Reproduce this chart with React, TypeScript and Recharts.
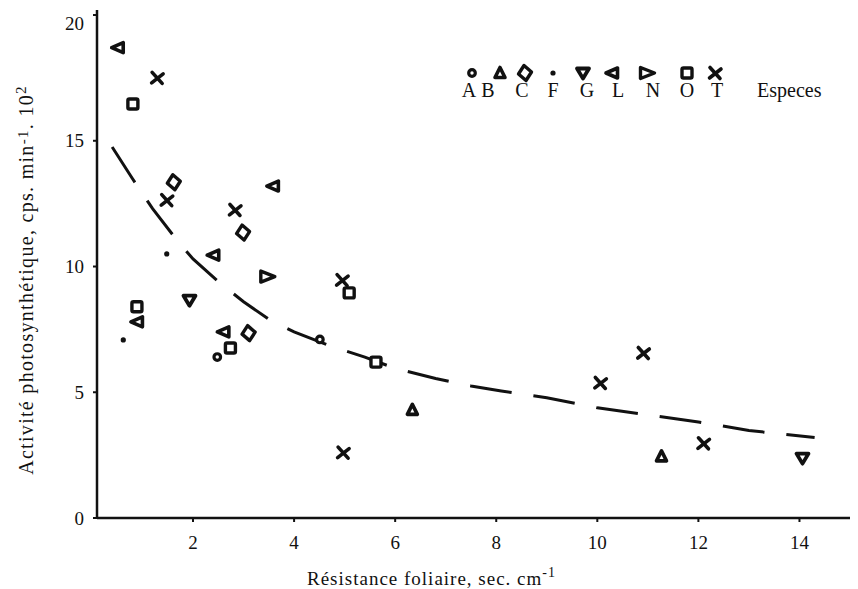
import React from 'react';
import { ScatterChart, Scatter, XAxis, YAxis } from 'recharts';

// ---- data ----
const speciesA = [{ x: 2.48, y: 6.4 }, { x: 4.51, y: 7.1 }];
const speciesB = [{ x: 6.34, y: 4.3 }, { x: 11.27, y: 2.45 }];
const speciesC = [{ x: 1.62, y: 13.35 }, { x: 2.99, y: 11.35 }, { x: 3.1, y: 7.35 }];
const speciesF = [{ x: 0.62, y: 7.08 }, { x: 1.48, y: 10.5 }];
const speciesG = [{ x: 1.93, y: 8.66 }, { x: 14.06, y: 2.38 }];
const speciesL = [
  { x: 0.51, y: 18.7 }, { x: 3.58, y: 13.2 }, { x: 2.4, y: 10.45 },
  { x: 2.6, y: 7.4 }, { x: 0.89, y: 7.8 },
];
const speciesN = [{ x: 3.47, y: 9.6 }];
const speciesO = [
  { x: 0.81, y: 16.46 }, { x: 0.89, y: 8.4 }, { x: 2.74, y: 6.76 },
  { x: 5.09, y: 8.95 }, { x: 5.62, y: 6.2 },
];
const speciesT = [
  { x: 1.29, y: 17.5 }, { x: 1.48, y: 12.64 }, { x: 2.83, y: 12.25 },
  { x: 4.95, y: 9.46 }, { x: 4.97, y: 2.6 }, { x: 10.06, y: 5.37 },
  { x: 10.91, y: 6.56 }, { x: 12.1, y: 2.97 },
];
const trendCurve = [
  { x: 0.4, y: 14.75 }, { x: 0.8, y: 13.5 }, { x: 1.2, y: 12.3 }, { x: 1.7, y: 11.0 },
  { x: 2.0, y: 10.3 }, { x: 2.5, y: 9.4 }, { x: 3.0, y: 8.6 }, { x: 3.5, y: 7.9 },
  { x: 4.0, y: 7.4 }, { x: 4.7, y: 6.85 }, { x: 5.4, y: 6.4 }, { x: 6.0, y: 5.95 },
  { x: 6.8, y: 5.55 }, { x: 7.5, y: 5.25 }, { x: 8.1, y: 5.05 }, { x: 9.0, y: 4.78 },
  { x: 10.0, y: 4.38 }, { x: 11.0, y: 4.1 }, { x: 12.0, y: 3.82 }, { x: 13.0, y: 3.48 },
  { x: 14.3, y: 3.2 },
];
const xTicks = [2, 4, 6, 8, 10, 12, 14];
const yTicks = [0, 5, 10, 15, 20];
const legendLetters = ['A', 'B', 'C', 'F', 'G', 'L', 'N', 'O', 'T'];

const INK = '#111';
const FONT = '"Liberation Serif", "Times New Roman", serif';

// ---- marker glyphs ----
type Glyph = (cx: number, cy: number) => React.ReactElement;
const glyphs: Record<string, Glyph> = {
  A: (cx, cy) => <circle cx={cx} cy={cy} r={3.3} fill="#fff" stroke={INK} strokeWidth={3.2} />,
  B: (cx, cy) => (
    <polygon points={`${cx},${cy - 5.5} ${cx + 5},${cy + 4.5} ${cx - 5},${cy + 4.5}`}
      fill="#fff" stroke={INK} strokeWidth={3.6} strokeLinejoin="round" />
  ),
  C: (cx, cy) => (
    <polygon points={`${cx - 1},${cy - 7.5} ${cx + 6.5},${cy - 1} ${cx + 1},${cy + 7.5} ${cx - 6.5},${cy + 1}`}
      fill="#fff" stroke={INK} strokeWidth={3.4} strokeLinejoin="round" />
  ),
  F: (cx, cy) => <circle cx={cx} cy={cy} r={2.6} fill={INK} />,
  G: (cx, cy) => (
    <polygon points={`${cx - 6},${cy - 4.5} ${cx + 6},${cy - 4.5} ${cx},${cy + 5.5}`}
      fill="#fff" stroke={INK} strokeWidth={3.8} strokeLinejoin="round" />
  ),
  L: (cx, cy) => (
    <polygon points={`${cx - 6},${cy} ${cx + 5.5},${cy - 5} ${cx + 5.5},${cy + 5}`}
      fill="#fff" stroke={INK} strokeWidth={3.6} strokeLinejoin="round" />
  ),
  N: (cx, cy) => (
    <polygon points={`${cx - 6.5},${cy - 5.5} ${cx + 7.5},${cy} ${cx - 6.5},${cy + 5.5}`}
      fill="#fff" stroke={INK} strokeWidth={3.4} strokeLinejoin="round" />
  ),
  O: (cx, cy) => (
    <rect x={cx - 5} y={cy - 5} width={10} height={10} rx={1.5}
      fill="#fff" stroke={INK} strokeWidth={3.4} />
  ),
  T: (cx, cy) => (
    <g stroke={INK} strokeWidth={3.6} strokeLinecap="round">
      <line x1={cx - 5} y1={cy - 5.5} x2={cx + 5} y2={cy + 5.5} />
      <line x1={cx - 5.5} y1={cy + 5} x2={cx + 6} y2={cy - 4} />
    </g>
  ),
};

const shapeFor = (key: string) => (props: any) => {
  if (props.cx == null || props.cy == null) return <g />;
  return glyphs[key](props.cx, props.cy);
};

const series: [string, { x: number; y: number }[]][] = [
  ['A', speciesA], ['B', speciesB], ['C', speciesC], ['F', speciesF], ['G', speciesG],
  ['L', speciesL], ['N', speciesN], ['O', speciesO], ['T', speciesT],
];

const YTick = (props: any) => {
  const { x, y, payload } = props;
  const shift = payload.value === 20 ? 8 : 0;
  return (
    <text x={x} y={y + shift} dy="0.35em" textAnchor="end" fontFamily={FONT} fontSize={19} fill={INK}>
      {payload.value}
    </text>
  );
};

const LegendBox = () => {
  const symX = [17, 45, 70, 98, 128, 157, 192, 232, 260];
  const letX = [14, 33, 67, 98, 132, 163, 198, 232, 262];
  return (
    <svg width={400} height={50} style={{ display: 'block' }}>
      {legendLetters.map((k, i) => (
        <g key={k}>
          {glyphs[k](symX[i], 15)}
          <text x={letX[i]} y={39} textAnchor="middle" fontFamily={FONT} fontSize={20} fill={INK}>{k}</text>
        </g>
      ))}
      <text x={302} y={39} fontFamily={FONT} fontSize={20} fill={INK}>Especes</text>
    </svg>
  );
};

export default function App() {
  return (
    <div style={{ position: 'absolute', left: 0, top: 0, width: 858, height: 589, background: '#fff' }}>
      <ScatterChart width={858} height={589} margin={{ top: 10, right: 8, bottom: 21, left: 0 }}>
        <XAxis
          type="number" dataKey="x" domain={[0.1, 15]} ticks={xTicks} allowDataOverflow
          axisLine={{ stroke: INK, strokeWidth: 2.5 }} tickLine={{ stroke: INK, strokeWidth: 2 }}
          tickSize={4} tickMargin={14} height={50}
          tick={{ fontFamily: FONT, fontSize: 19, fill: INK }}
          label={{
            content: () => (
              <text x={307} y={585} fontFamily={FONT} fontSize={19} fill={INK} letterSpacing={1}>
                Résistance foliaire, sec. cm
                <tspan dy={-8} fontSize={14}>-1</tspan>
              </text>
            ),
          }}
        />
        <YAxis
          type="number" dataKey="y" domain={[0, 20.2]} ticks={yTicks} allowDataOverflow
          axisLine={{ stroke: INK, strokeWidth: 2.5 }} tickLine={{ stroke: INK, strokeWidth: 2 }}
          tickSize={4} tickMargin={9} width={97}
          tick={<YTick />}
          label={{
            content: () => (
              <text transform="rotate(-90)" x={-280} y={33} textAnchor="middle"
                fontFamily={FONT} fontSize={20} fill={INK} letterSpacing={1.3}>
                Activité photosynthétique, cps. min
                <tspan dy={-5} fontSize={15}>-1</tspan>
                <tspan dy={5}>. 10</tspan>
                <tspan dy={-7} fontSize={15}>2</tspan>
              </text>
            ),
          }}
        />
        <Scatter
          name="trend" data={trendCurve} isAnimationActive={false}
          line={{ stroke: INK, strokeWidth: 3, strokeDasharray: '42 22' }}
          lineType="joint" shape={() => <g />} legendType="none"
        />
        {series.map(([k, d]) => (
          <Scatter key={k} name={k} data={d} isAnimationActive={false} shape={shapeFor(k)} />
        ))}
      </ScatterChart>
      <div style={{ position: 'absolute', left: 455, top: 58 }}>
        <LegendBox />
      </div>
    </div>
  );
}
